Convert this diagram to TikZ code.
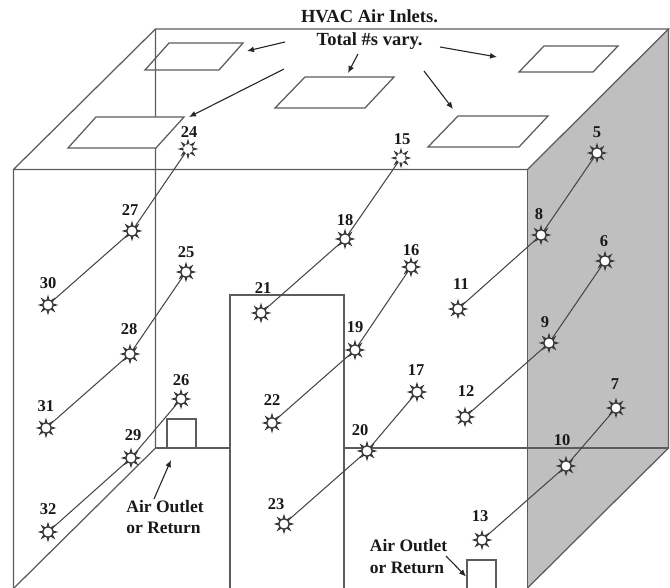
\documentclass[tikz,border=0pt]{standalone}
\usepackage{fontspec}
\setmainfont{Liberation Serif}
\usetikzlibrary{arrows.meta,calc}
\definecolor{ln}{gray}{0.36}
\definecolor{face}{gray}{0.75}
\tikzset{
  wall/.style={draw=ln,line width=1.25pt},
  inlet/.style={draw=ln,line width=1.25pt,fill=white},
  box/.style={draw=ln,line width=1.25pt,fill=white},
  lead/.style={draw=black!72,line width=1.05pt},
  pointer/.style={draw=black!85,line width=1.1pt,-{Latex[length=7pt,width=6pt]}},
  sun/.style={circle,draw=black!78,fill=white,line width=1.3pt,minimum size=10.5pt,inner sep=0pt},
  sunfaint/.style={sun,line width=1pt,dash pattern=on 2.2pt off 1.6pt},
  numlabel/.style={font=\fontsize{16.5}{18}\selectfont\bfseries,text=black!90,inner sep=0pt},
  caption/.style={font=\fontsize{17.5}{21.5}\selectfont\bfseries,text=black!90,align=left,inner sep=0pt},
  headline/.style={caption,font=\fontsize{18.5}{23}\selectfont\bfseries,align=center}
}
\newcommand{\sensor}[6][sun]{%
  \foreach \a in {0,45,...,315}{%
    \fill[black!78] ($(#3,#4)+(\a-22:4.6pt)$) -- ($(#3,#4)+(\a:10.5pt)$) -- ($(#3,#4)+(\a+22:4.6pt)$) -- cycle;
  }%
  \node[#1] (s#2) at (#3,#4) {};
  \node[numlabel] (n#2) at (#5,#6) {#2};
}
\begin{document}
\begin{tikzpicture}[x=1pt,y=-1pt]
\useasboundingbox (0,0) rectangle (670,588);
\fill[white] (0,0) rectangle (670,588);
% side face
\path[fill=face] (527.5,169.5) -- (668.5,29) -- (668.5,448) -- (527.5,588) -- cycle;
% box edges
\draw[wall] (13.5,588) -- (13.5,169.5) -- (155.5,29) -- (668.5,29) -- (527.5,169.5) -- (13.5,169.5);
\draw[wall] (527.5,169.5) -- (527.5,588);
\draw[wall] (668.5,29) -- (668.5,448) -- (527.5,588);
\draw[wall] (155.5,29) -- (155.5,448) -- (14,588);
\draw[wall] (155.5,448) -- (230,448);
\draw[wall] (344,448) -- (668.5,448);
\draw[wall] (230,588) -- (230,295) -- (344,295) -- (344,588);
% roof inlets
\draw[wall] (145,70) -- (169,43) -- (243,43) -- (219,70) -- cycle;
\draw[inlet] (68,148) -- (96,117) -- (184,117) -- (156,148) -- cycle;
\draw[inlet] (275,108) -- (305,77) -- (394,77) -- (365,108) -- cycle;
\draw[inlet] (428,147) -- (458,116) -- (548,116) -- (519,147) -- cycle;
\draw[inlet] (519,72) -- (544,46) -- (618,46) -- (593,72) -- cycle;
% floor outlets
\node[box,minimum width=29pt,minimum height=29pt,inner sep=0pt] (outA) at (181.5,433.5) {};
\fill[white] (466.5,560) rectangle (496,588);
\draw[wall] (467,588) -- (467,560) -- (496,560) -- (496,588);
\coordinate (outB) at (466,576.5);
% sensors
\sensor{5}{597}{153}{597}{132}
\sensor{6}{605}{261}{604}{241}
\sensor{7}{616}{408}{615}{384}
\sensor{8}{541}{235}{539}{214}
\sensor{9}{549}{343}{545}{322}
\sensor{10}{566}{466}{562}{440}
\sensor{11}{458}{309}{461}{284}
\sensor{12}{465}{417}{466}{391}
\sensor{13}{482}{540}{480}{516}
\sensor[sunfaint]{15}{401}{158}{402}{139}
\sensor{16}{411}{267}{411}{250}
\sensor{17}{417}{392}{416}{370}
\sensor{18}{345}{239}{345}{220}
\sensor{19}{355}{350}{355}{327}
\sensor{20}{367}{451}{360}{430}
\sensor{21}{261}{313}{263}{288}
\sensor{22}{272}{423}{272}{400}
\sensor{23}{284}{524}{276}{504}
\sensor[sunfaint]{24}{188}{149}{189}{132}
\sensor{25}{186}{272}{186}{252}
\sensor{26}{181}{399}{181}{380}
\sensor{27}{132}{231}{130}{210}
\sensor{28}{130}{354}{129}{329}
\sensor{29}{131}{458}{133}{435}
\sensor{30}{48}{305}{48}{283}
\sensor{31}{46}{428}{46}{406}
\sensor{32}{48}{532}{48}{509}
% leads
\foreach \a/\b/\c in {5/8/11,6/9/12,7/10/13,15/18/21,16/19/22,17/20/23,24/27/30,25/28/31,26/29/32}{
  \draw[lead] (s\a) -- (s\b);
  \draw[lead] (s\b) -- (s\c);
}
% captions
\node[headline] (hvac) at (369.5,30) {HVAC Air Inlets.\\Total \#s vary.};
\node[caption] (airA) at (165,517) {Air Outlet\\or Return};
\node[caption] (airB) at (408.5,556.5) {Air Outlet\\or Return};
% pointers
\coordinate (p1a) at (285,42); \coordinate (p1b) at (247,51);
\coordinate (p2a) at (284,69); \coordinate (p2b) at (189,117);
\coordinate (p3a) at (358,54); \coordinate (p3b) at (348,73);
\coordinate (p4a) at (440,47); \coordinate (p4b) at (497,57);
\coordinate (p5a) at (424,71); \coordinate (p5b) at (453,109);
\coordinate (p6a) at (154,499); \coordinate (p6b) at (171,460);
\coordinate (p7a) at (446,556);
\draw[pointer] (p1a) -- (p1b);
\draw[pointer] (p2a) -- (p2b);
\draw[pointer] (p3a) -- (p3b);
\draw[pointer] (p4a) -- (p4b);
\draw[pointer] (p5a) -- (p5b);
\draw[pointer] (p6a) -- (p6b);
\draw[pointer] (p7a) -- (outB);
\end{tikzpicture}
\end{document}
